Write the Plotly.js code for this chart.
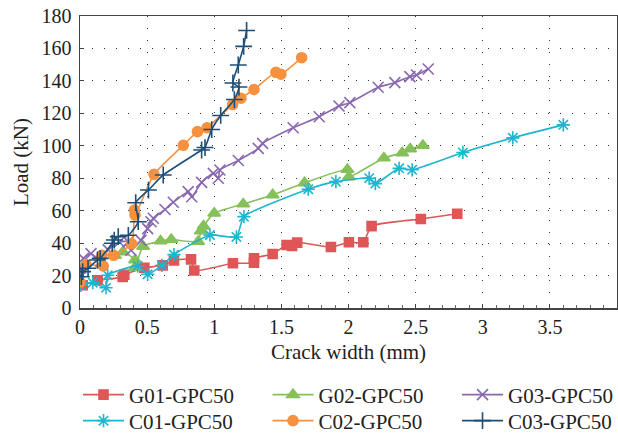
<!DOCTYPE html>
<html><head><meta charset="utf-8">
<script src="https://cdn.plot.ly/plotly-3.0.1.min.js"></script>
<style>html,body{margin:0;padding:0;background:#fff}#chart{width:618px;height:436px}</style>
</head><body><div id="chart"></div>
<script>
const seriesNames = ['G01-GPC50','G02-GPC50','G03-GPC50','C01-GPC50','C02-GPC50','C03-GPC50'];

const g01X = [0.02,0.132,0.318,0.33,0.479,0.616,0.70,0.827,0.851,1.139,1.296,1.296,1.435,1.539,1.58,1.618,1.869,2.003,2.11,2.172,2.539,2.81];
const g01Y = [14,17.1,19.1,20.5,24.8,26.3,29.3,30,23.1,27.6,27.9,30.6,33.3,38.8,38.2,40.3,37.6,40.5,40.5,50.5,54.9,58.1];

const g02X = [0.26,0.32,0.41,0.41,0.47,0.6,0.68,0.88,0.9,0.92,1.0,1.216,1.435,1.672,1.992,2.003,2.264,2.40,2.459,2.554];
const g02Y = [32.4,34.6,29.6,25,38,41.3,42.2,41,47.5,50.5,58.4,64.1,69.7,77.1,85.4,80.8,92.5,95.6,98.0,100.2];

const g03X = [0,0,0.025,0.082,0.156,0.21,0.293,0.36,0.38,0.454,0.504,0.529,0.546,0.633,0.695,0.806,0.832,0.906,0.993,1.03,1.042,1.179,1.328,1.36,1.588,1.782,1.929,2.01,2.221,2.345,2.457,2.507,2.594];
const g03Y = [19,24.5,30.6,33.5,28.8,35.8,40.7,40.9,35.6,41.7,48.9,53.2,55.3,60.7,65.2,71.7,68.6,77.4,83,80,85.1,90.9,98.4,101.5,111.1,117.9,124.5,126.6,136.1,138.9,142.6,143.6,147.3];

const c01X = [0.007,0.095,0.194,0.206,0.43,0.504,0.61,0.70,0.968,1.165,1.221,1.70,1.906,2.154,2.20,2.377,2.474,2.852,3.224,3.60];
const c01Y = [14.0,15.6,12.5,20.2,25.9,20.8,26.3,32.9,45.0,43.8,56.3,73.2,77.9,80.0,76.7,86.1,85.2,95.9,104.9,112.9];

const c02X = [0,0.045,0.173,0.164,0.25,0.385,0.405,0.41,0.551,0.769,0.875,0.946,1.137,1.199,1.296,1.459,1.497,1.651];
const c02Y = [16,26.7,25.9,32.5,32.5,39.6,60.4,57.3,82.4,100.3,108.7,111.1,125.4,129.3,134.7,145.3,144.1,154.3];

const c03X = [0.01,0.02,0.06,0.13,0.15,0.24,0.255,0.285,0.36,0.434,0.415,0.51,0.62,0.906,0.931,0.981,1.048,1.15,1.184,1.139,1.179,1.219,1.241];
const c03Y = [19.3,22.4,24.5,29.6,30.6,39.9,41.9,44,44.8,53.2,64.9,72.7,82,97.4,98.9,110,118.7,128.5,136.2,138.7,149.8,161.3,171.1];

const xTickVals = [0,0.5,1,1.5,2,2.5,3,3.5,4];
const xTickText = ['0','0.5','1','1.5','2','2.5','3','3.5','4'];
const yTickVals = [0,20,40,60,80,100,120,140,160,180];

const colors = ['#e05656','#86c05a','#8a68b0','#1db6cf','#f7913f','#1d4e78'];
const symbols = ['square','triangle-up','x-thin-open','asterisk-open','circle','cross-thin-open'];
const sizes = [9,11,11,11,10,12];
const legendIds = ['legend','legend','legend','legend2','legend2','legend2'];
const xs = [g01X,g02X,g03X,c01X,c02X,c03X];
const ys = [g01Y,g02Y,g03Y,c01Y,c02Y,c03Y];

const traces = seriesNames.map((n,i)=>({
  type:'scatter', mode:'lines+markers', name:n, x:xs[i], y:ys[i], legend:legendIds[i],
  line:{color:colors[i], width:1.6, shape:'spline', smoothing:0.5},
  marker:{symbol:symbols[i], size:sizes[i], color:colors[i], line:{color:colors[i], width:1.6}}
}));

const serif = 'Liberation Serif, Times New Roman, serif';
const legendBase = {orientation:'h', x:-0.0037, xanchor:'left', yanchor:'middle',
  entrywidth:133.5, entrywidthmode:'pixels', itemwidth:41,
  font:{family:serif, size:21, color:'#222'}, traceorder:'normal',
  bgcolor:'rgba(0,0,0,0)'};
const layout = {
  width:618, height:436,
  margin:{l:80, r:1, t:16, b:128, autoexpand:false},
  paper_bgcolor:'#fff', plot_bgcolor:'#fff',
  font:{family:serif, size:19, color:'#222'},
  showlegend:true,
  legend:Object.assign({}, legendBase, {y:-0.298}),
  legend2:Object.assign({}, legendBase, {y:-0.387}),
  xaxis:{range:[0,4], tickvals:xTickVals, ticktext:xTickText,
    showline:true, mirror:true, linecolor:'#444', linewidth:1.5,
    ticks:'inside', ticklen:4, tickcolor:'#444',
    minor:{dtick:0.1, ticks:'inside', ticklen:3, tickcolor:'#666', showgrid:false},
    showgrid:true, gridcolor:'#333', gridwidth:1, griddash:'1px,11px',
    zeroline:false, tickfont:{family:serif, size:20},
    title:{text:'Crack width (mm)', font:{family:serif, size:21}, standoff:8}},
  yaxis:{range:[0,180], tickvals:yTickVals,
    showline:true, mirror:true, linecolor:'#444', linewidth:1.5,
    ticks:'inside', ticklen:4, tickcolor:'#444', ticklabelstandoff:3,
    showgrid:true, gridcolor:'#333', gridwidth:1, griddash:'1px,11px',
    zeroline:false, tickfont:{family:serif, size:20},
    title:{text:'Load (kN)', font:{family:serif, size:21}, standoff:7}}
};
Plotly.newPlot('chart', traces, layout, {displayModeBar:false, staticPlot:true});
</script></body></html>
